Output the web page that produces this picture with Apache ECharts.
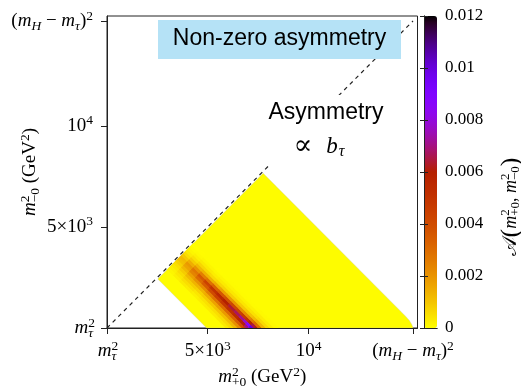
<!DOCTYPE html>
<html><head><meta charset="utf-8">
<script src="https://cdn.jsdelivr.net/npm/echarts@6/dist/echarts.min.js"></script>
<style>html,body{margin:0;padding:0;background:#fff}#c{width:521px;height:390px}</style>
</head><body><div id="c"></div>
<script>
// ---- physical constants (GeV) ----
const mTau = 1.777, mH = 125.0;
const mTau2 = mTau * mTau;
const mMax2 = (mH - mTau) * (mH - mTau);

// ---- axis ticks and labels ----
const axisTickValues = [mTau2, 5000, 10000, mMax2];
const xTickLabels = ['{i|m}{sup|2}{sb|τ}', '{n|5×10}{sup|3}', '{n|10}{sup|4}', '{n|(}{i|m}{sub|H}{n| − }{i|m}{sub|τ}{n|)}{sup|2}'];
const yTickLabels = ['{i|m}{sup|2}{sb|τ}', '{n|5×10}{sup|3}', '{n|10}{sup|4}', '{n|(}{i|m}{sub|H}{n| − }{i|m}{sub|τ}{n|)}{sup|2}'];
const colorTicks = [0, 0.002, 0.004, 0.006, 0.008, 0.01, 0.012];

// ---- kinematic region boundary (m2_{+0}, m2_{-0}) ----
const regionX = [2525, 7750, 14800, 15000, 15120, 15170, 15184, 4947];
const regionY = [2425, 7650, 600, 380, 180, 60, 3.16, 3.16];
const regionValue = 0.00005;

// ---- asymmetry cells in (u = m2+0 + m2-0, v = m2+0 - m2-0) ----
const uEdges = [5900, 6100, 6300, 6500, 6700, 6900, 7100, 7300, 7500, 7700, 7900, 8100, 8300, 8500];
const vEdges = [100, 700, 1300, 1900, 2500, 3100, 3700, 4300, 4900, 5500, 6000, 6400, 6700, 7000, 7300, 8600];
const bandRow0  = [0.00014, 0.00024, 0.00036, 0.00054, 0.00078, 0.00106, 0.00120, 0.00090, 0.00054, 0.00030, 0.00014, 0.00006, 0.00002];
const bandRow1  = [0.00023, 0.00038, 0.00057, 0.00086, 0.00124, 0.00167, 0.00190, 0.00143, 0.00086, 0.00048, 0.00023, 0.00010, 0.00004];
const bandRow2  = [0.00032, 0.00054, 0.00081, 0.00122, 0.00176, 0.00238, 0.00270, 0.00203, 0.00122, 0.00068, 0.00032, 0.00014, 0.00005];
const bandRow3  = [0.00029, 0.00050, 0.00083, 0.00133, 0.00205, 0.00302, 0.00360, 0.00252, 0.00133, 0.00065, 0.00032, 0.00014, 0.00005];
const bandRow4  = [0.00022, 0.00040, 0.00075, 0.00132, 0.00220, 0.00352, 0.00440, 0.00286, 0.00132, 0.00057, 0.00026, 0.00013, 0.00004];
const bandRow5  = [0.00026, 0.00046, 0.00087, 0.00153, 0.00255, 0.00408, 0.00510, 0.00332, 0.00153, 0.00066, 0.00031, 0.00015, 0.00005];
const bandRow6  = [0.00028, 0.00050, 0.00095, 0.00168, 0.00280, 0.00448, 0.00560, 0.00364, 0.00168, 0.00073, 0.00034, 0.00017, 0.00006];
const bandRow7  = [0.00030, 0.00054, 0.00102, 0.00180, 0.00300, 0.00480, 0.00600, 0.00390, 0.00180, 0.00078, 0.00036, 0.00018, 0.00006];
const bandRow8  = [0.00032, 0.00058, 0.00109, 0.00192, 0.00320, 0.00512, 0.00640, 0.00416, 0.00192, 0.00083, 0.00038, 0.00019, 0.00006];
const bandRow9  = [0.00034, 0.00060, 0.00114, 0.00201, 0.00335, 0.00536, 0.00670, 0.00436, 0.00201, 0.00087, 0.00040, 0.00020, 0.00007];
const bandRow10 = [0.00036, 0.00064, 0.00121, 0.00213, 0.00355, 0.00568, 0.00710, 0.00462, 0.00213, 0.00092, 0.00043, 0.00021, 0.00007];
const bandRow11 = [0.00039, 0.00069, 0.00131, 0.00231, 0.00385, 0.00616, 0.00770, 0.00500, 0.00231, 0.00100, 0.00046, 0.00023, 0.00008];
const bandRow12 = [0.00044, 0.00078, 0.00148, 0.00261, 0.00435, 0.00696, 0.00870, 0.00566, 0.00261, 0.00113, 0.00052, 0.00026, 0.00009];
const bandRow13 = [0.00050, 0.00090, 0.00170, 0.00300, 0.00500, 0.00800, 0.01000, 0.00650, 0.00300, 0.00130, 0.00060, 0.00030, 0.00010];
const bandRow14 = [0.00048, 0.00086, 0.00162, 0.00285, 0.00475, 0.00760, 0.00950, 0.00618, 0.00285, 0.00124, 0.00057, 0.00029, 0.00010];
const bandRows = [bandRow0, bandRow1, bandRow2, bandRow3, bandRow4, bandRow5, bandRow6, bandRow7,
                  bandRow8, bandRow9, bandRow10, bandRow11, bandRow12, bandRow13, bandRow14];

// ---- build series data ----
const cellData = [];
bandRows.forEach((row, r) => row.forEach((val, c) => {
  cellData.push([uEdges[c], uEdges[c + 1], vEdges[r], vEdges[r + 1], val]);
}));
const regionPts = regionX.map((x, i) => [x, regionY[i]]);

// gnuplot-like palette (reversed 7,5,15): 0 -> yellow, max -> black
function palColor(x) {
  const r = Math.sqrt(x), g = x * x * x, b = Math.max(0, Math.sin(2 * Math.PI * x));
  return 'rgb(' + Math.round(r * 255) + ',' + Math.round(g * 255) + ',' + Math.round(b * 255) + ')';
}
const palette = [];
for (let i = 0; i <= 48; i++) palette.push(palColor(1 - i / 48));
const vmMax = 0.012;

const SERIF = 'Liberation Serif';
const FS = 19;
const rich = {
  n:   {fontFamily: SERIF, fontSize: FS, color: '#000'},
  i:   {fontFamily: SERIF, fontSize: FS, fontStyle: 'italic', color: '#000'},
  sup: {fontFamily: SERIF, fontSize: 13.5, color: '#000', padding: [0, 0, 10, 0]},
  sub: {fontFamily: SERIF, fontSize: 13.5, fontStyle: 'italic', color: '#000', padding: [10, 0, 0, 0]},
  sb:  {fontFamily: SERIF, fontSize: 13.5, fontStyle: 'italic', color: '#000', padding: [10, 0, 0, -6.75]},
  sbn: {fontFamily: SERIF, fontSize: 13.5, color: '#000', padding: [10, 0, 0, -6.75]}
};
const richCB = {
  cal: {fontFamily: 'DejaVu Serif', fontSize: 20, color: '#000'},
  bp:  {fontFamily: SERIF, fontSize: 26, color: '#000'},
  n:   {fontFamily: SERIF, fontSize: 18, color: '#000'},
  i:   {fontFamily: SERIF, fontSize: 18, fontStyle: 'italic', color: '#000'},
  sup: {fontFamily: SERIF, fontSize: 13, color: '#000', padding: [0, 0, 10, 0]},
  sbn: {fontFamily: SERIF, fontSize: 13, color: '#000', padding: [10, 0, 0, -6.5]}
};

const chart = echarts.init(document.getElementById('c'), null, {renderer: 'canvas'});
const option = {
  animation: false,
  backgroundColor: '#fff',
  grid: [
    {left: 107, top: 16, width: 310.5, height: 312, show: true, borderColor: '#222', borderWidth: 1, containLabel: false, outerBoundsMode: 'none'},
    {left: 424, top: 16, width: 13, height: 312, show: false, containLabel: false, outerBoundsMode: 'none'}
  ],
  xAxis: [
    {gridIndex: 0, type: 'value', min: mTau2, max: 15407, z: 10,
     axisLine: {show: true, onZero: false, lineStyle: {color: '#222', width: 1}},
     axisTick: {show: true, length: 6, inside: false, customValues: axisTickValues, lineStyle: {color: '#222'}},
     splitLine: {show: false},
     axisLabel: {show: true, margin: 11, customValues: axisTickValues, rich: rich,
       formatter: (v) => xTickLabels[axisTickValues.findIndex(t => Math.abs(t - v) < 1)] || ''},
     name: '{i|m}{sup|2}{sbn|+0}{n| (GeV}{sup|2}{n|)}', nameLocation: 'middle', nameGap: 37, nameMoveOverlap: false,
     nameTextStyle: {rich: rich}},
    {gridIndex: 1, type: 'value', min: 0, max: 1, position: 'bottom', z: 10,
     axisLine: {show: true, lineStyle: {color: '#222'}}, axisTick: {show: false}, axisLabel: {show: false}, splitLine: {show: false}},
    {gridIndex: 1, type: 'value', min: 0, max: 1, position: 'top', z: 10,
     axisLine: {show: true, lineStyle: {color: '#222'}}, axisTick: {show: false}, axisLabel: {show: false}, splitLine: {show: false}}
  ],
  yAxis: [
    {gridIndex: 0, type: 'value', min: mTau2, max: 15431, z: 10,
     axisLine: {show: true, onZero: false, lineStyle: {color: '#222', width: 1}},
     axisTick: {show: true, length: 6, inside: false, customValues: axisTickValues, lineStyle: {color: '#222'}},
     splitLine: {show: false},
     axisLabel: {show: true, margin: 14, customValues: axisTickValues, rich: rich,
       formatter: (v) => yTickLabels[axisTickValues.findIndex(t => Math.abs(t - v) < 1)] || ''},
     name: '{i|m}{sup|2}{sbn|−0}{n| (GeV}{sup|2}{n|)}', nameLocation: 'middle', nameGap: 65, nameMoveOverlap: false,
     nameTextStyle: {rich: rich}},
    {gridIndex: 1, type: 'value', min: 0, max: vmMax, interval: 0.002, position: 'right', z: 10,
     axisLine: {show: true, lineStyle: {color: '#222'}},
     axisTick: {show: true, inside: true, length: 4, lineStyle: {color: '#222'}},
     splitLine: {show: false},
     axisLabel: {show: true, margin: 8, fontFamily: SERIF, fontSize: 17, color: '#000'}},
    {gridIndex: 1, type: 'value', min: 0, max: vmMax, interval: 0.002, position: 'left', z: 10,
     axisLine: {show: true, lineStyle: {color: '#222'}},
     axisTick: {show: true, inside: true, length: 4, lineStyle: {color: '#222'}},
     splitLine: {show: false}, axisLabel: {show: false}}
  ],
  visualMap: {
    type: 'continuous', min: 0, max: vmMax, dimension: 4, seriesIndex: 1,
    inRange: {color: palette}, calculable: false, realtime: false, hoverLink: false,
    orient: 'vertical', left: 424, top: 16, itemWidth: 13, itemHeight: 312, padding: 0, text: null, show: true
  },
  series: [
    {type: 'custom', name: 'region', coordinateSystem: 'cartesian2d', xAxisIndex: 0, yAxisIndex: 0, clip: true,
     data: [[0, 0]], silent: true, z: 2,
     renderItem: (params, api) => ({
       type: 'polygon',
       shape: {points: regionPts.map(p => api.coord(p))},
       style: {fill: palColor(1 - regionValue / vmMax), stroke: 'rgba(200,200,150,0.6)', lineWidth: 0.6}
     })},
    {type: 'custom', name: 'asymmetry', coordinateSystem: 'cartesian2d', xAxisIndex: 0, yAxisIndex: 0, clip: true,
     dimensions: ['u0', 'u1', 'v0', 'v1', 'val'], encode: {x: 0, y: 2}, data: cellData, silent: true, z: 3,
     renderItem: (params, api) => {
       const u0 = api.value(0), u1 = api.value(1), v0 = api.value(2), v1 = api.value(3);
       const pts = [[u0, v0], [u1, v0], [u1, v1], [u0, v1]].map(([u, v]) => api.coord([(u + v) / 2, (u - v) / 2]));
       const col = api.visual('color');
       return {type: 'polygon', shape: {points: pts}, style: {fill: col, stroke: col, lineWidth: 0.8}};
     }},
    {type: 'line', name: 'diag', xAxisIndex: 0, yAxisIndex: 0, data: [[mTau2, mTau2], [mMax2, mMax2]],
     symbol: 'none', silent: true, z: 4,
     lineStyle: {type: [4, 4], width: 1.2, color: '#222'}}
  ],
  graphic: [
    {type: 'rect', z: 100, shape: {x: 158, y: 20, width: 243, height: 39}, style: {fill: '#b5e2f6'}},
    {type: 'text', z: 101, x: 279.5, y: 39, style: {text: 'Non-zero asymmetry', font: '23px "Liberation Sans"', fill: '#000', align: 'center', verticalAlign: 'middle'}},
    {type: 'rect', z: 100, shape: {x: 258, y: 95, width: 134, height: 69}, style: {fill: '#fff'}},
    {type: 'text', z: 101, x: 326, y: 113, style: {text: 'Asymmetry', font: '23px "Liberation Sans"', fill: '#000', align: 'center', verticalAlign: 'middle'}},
    {type: 'text', z: 101, x: 319, y: 147, style: {
      text: '{s|∝}{b|b}{t|τ}', align: 'center', verticalAlign: 'middle',
      rich: {
        s: {fontFamily: 'DejaVu Serif', fontSize: 28, fill: '#000', padding: [0, 14, 0, 0]},
        b: {fontFamily: SERIF, fontStyle: 'italic', fontSize: 23, fill: '#000'},
        t: {fontFamily: SERIF, fontStyle: 'italic', fontSize: 16, fill: '#000', padding: [10, 0, 0, 1]}
      }}},
    {type: 'text', z: 101, x: 511, y: 207, rotation: Math.PI / 2, style: {
      text: '{cal|𝒜}{bp|(}{i|m}{sup|2}{sbn|+0}{n|, }{i|m}{sup|2}{sbn|−0}{bp|)}', align: 'center', verticalAlign: 'middle',
      rich: richCB}}
  ]
};
chart.setOption(option);
</script></body></html>
